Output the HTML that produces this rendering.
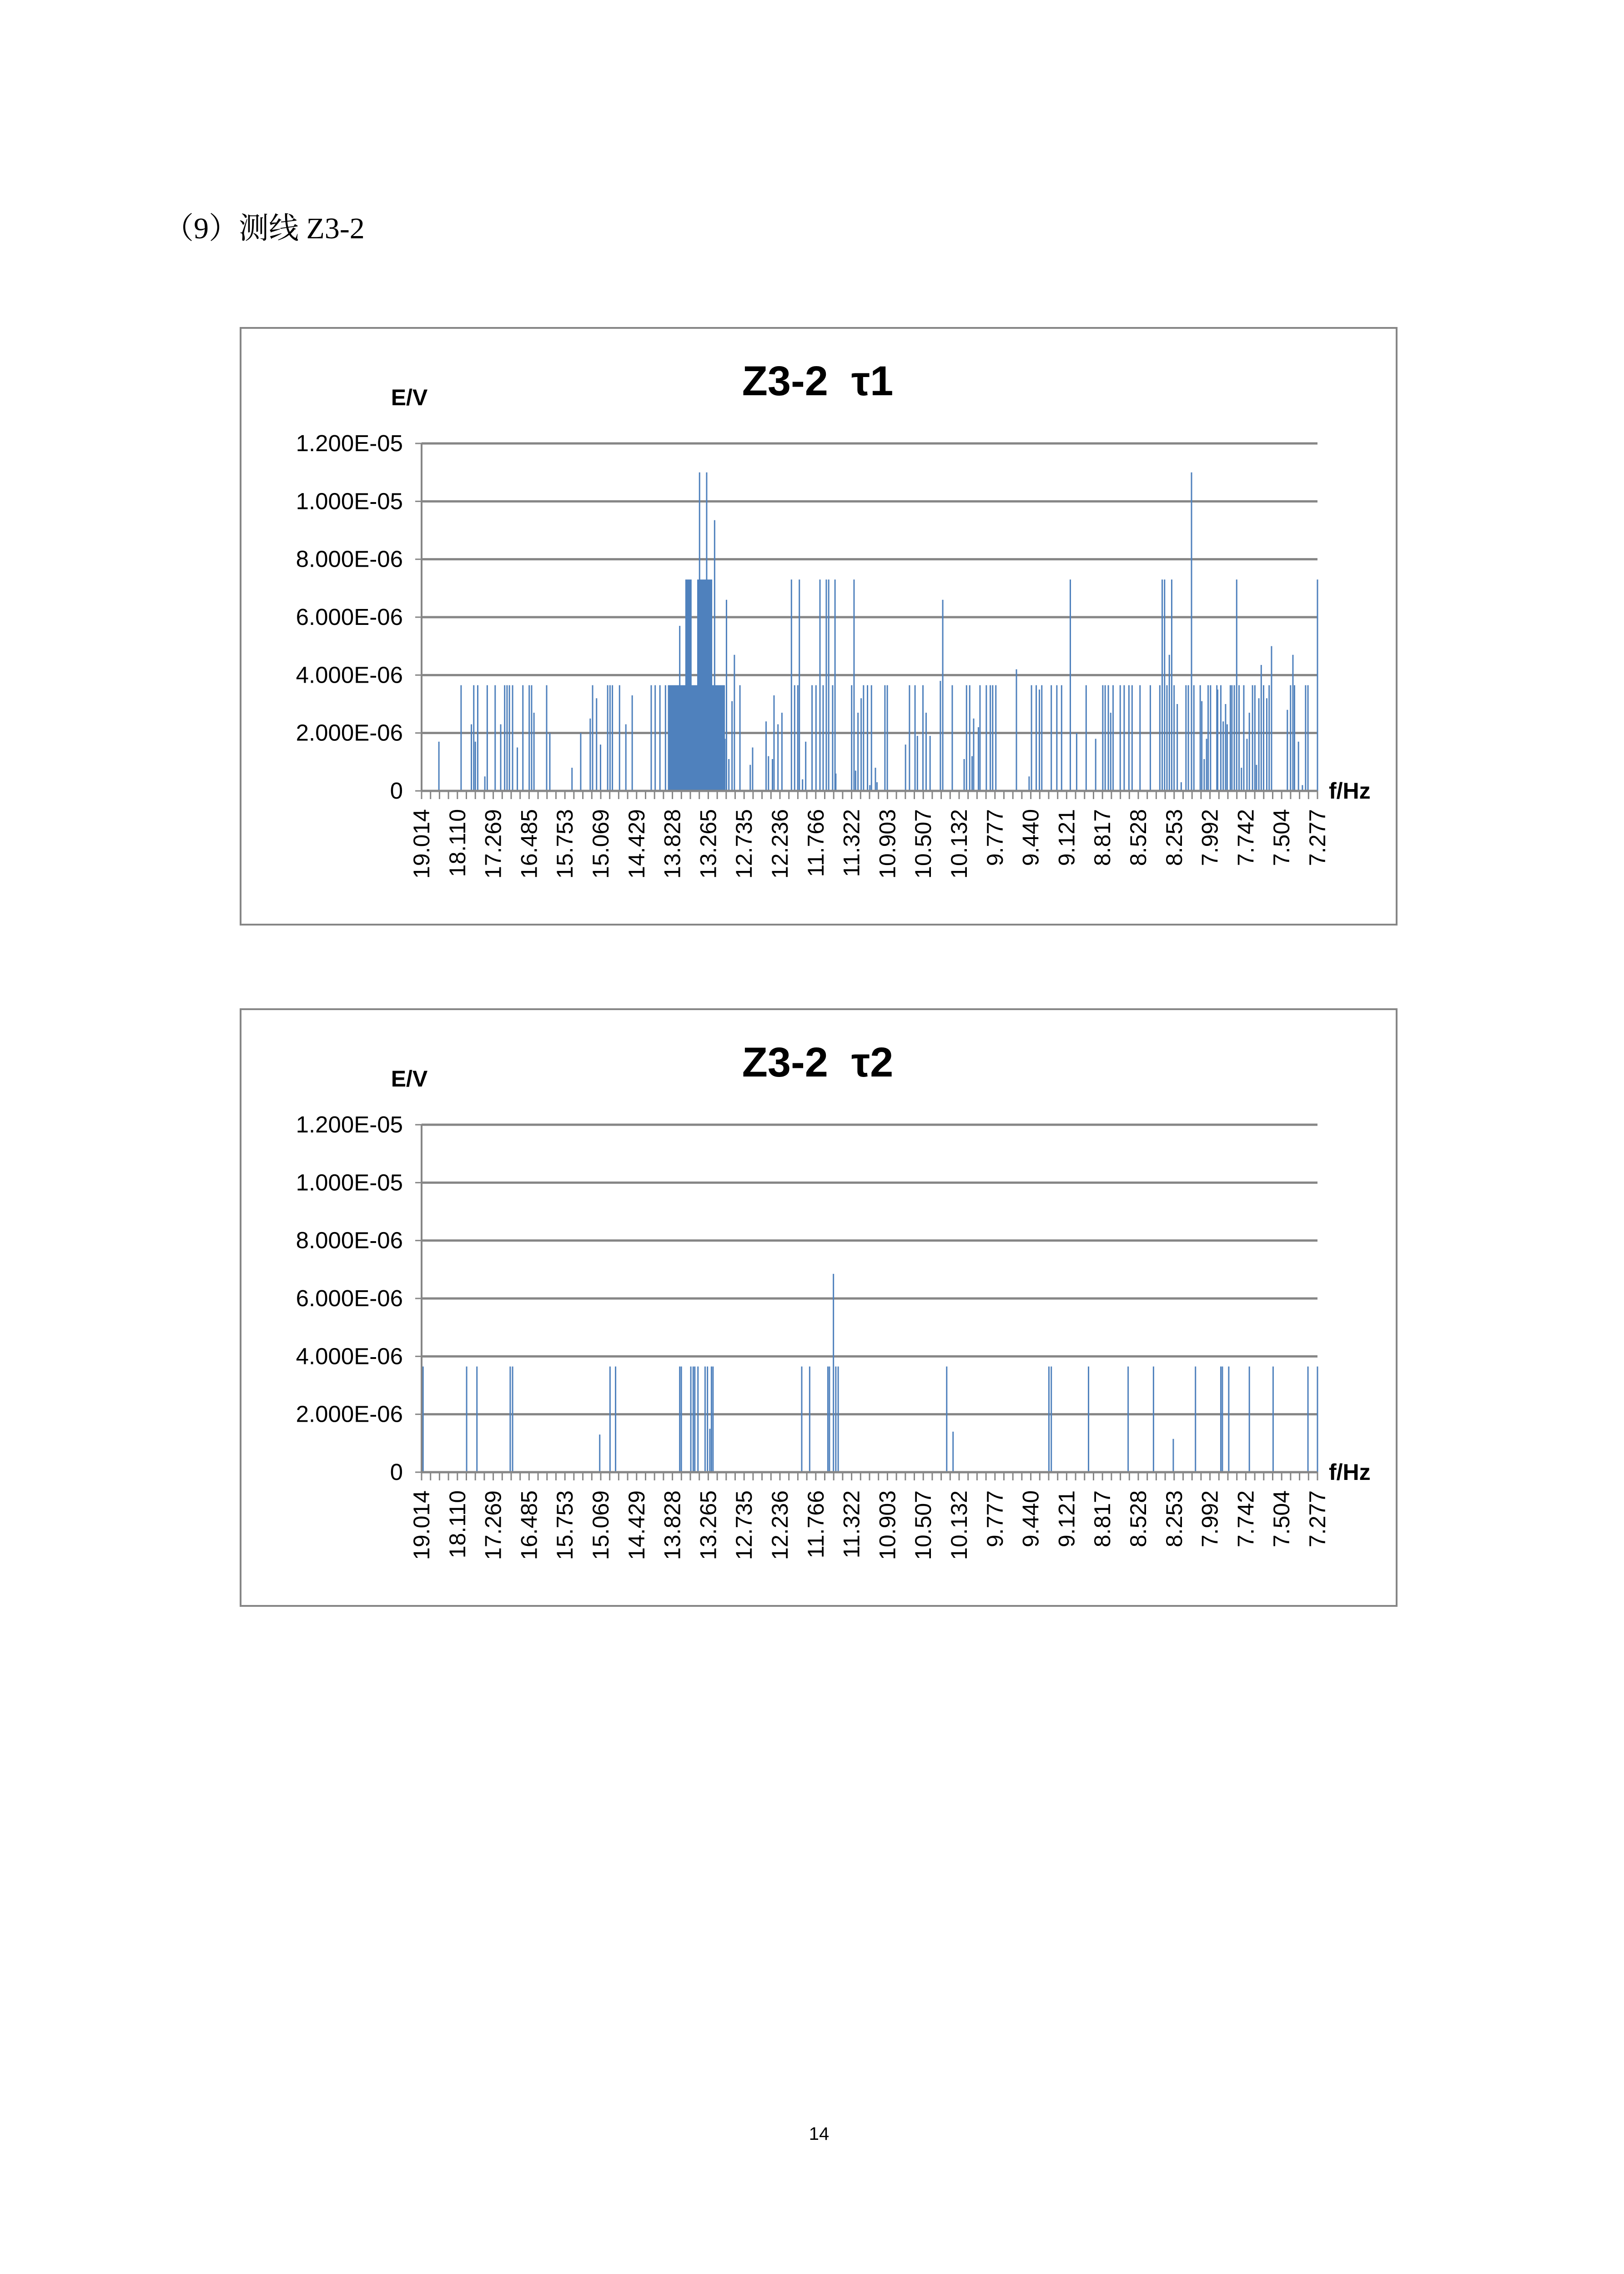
<!DOCTYPE html>
<html><head><meta charset="utf-8"><style>
html,body{margin:0;padding:0;background:#fff;width:3571px;height:5051px;overflow:hidden;}
body{position:relative;}
svg{position:absolute;left:0;top:0;display:block;}
</style></head><body>
<svg id="s" width="3571" height="5051" viewBox="0 0 3571 5051" xmlns="http://www.w3.org/2000/svg">
<text x="360" y="524" font-family="'Liberation Serif','Noto Serif CJK SC',serif" font-size="66" fill="#000">（9）测线 Z3-2</text>
<text x="1801" y="4705" font-family="'Liberation Sans',sans-serif" font-size="40" text-anchor="middle" fill="#000">14</text>
</svg>
<script>
var NS="http://www.w3.org/2000/svg",S=document.getElementById('s');
function el(t,a,txt){var e=document.createElementNS(NS,t);for(var k in a)e.setAttribute(k,a[k]);if(txt!==undefined)e.textContent=txt;S.appendChild(e);return e;}
var labels=["19.014","18.110","17.269","16.485","15.753","15.069","14.429","13.828","13.265","12.735","12.236","11.766","11.322","10.903","10.507","10.132","9.777","9.440","9.121","8.817","8.528","8.253","7.992","7.742","7.504","7.277"];
var ylab=["0","2.000E-06","4.000E-06","6.000E-06","8.000E-06","1.000E-05","1.200E-05"];
var d1=[[267,1.7],[295,3.65],[308,2.3],[311,3.65],[313,1.7],[316,3.65],[325,0.5],[328,3.65],[338,3.65],[345,2.3],[350,3.65],[353,3.65],[356,3.65],[360,3.65],[366,1.5],[373,3.65],[381,3.65],[384,3.65],[387,2.7],[403,3.65],[407,2.0],[435,0.8],[446,2.0],[458,2.5],[461,3.65],[466,3.2],[471,1.6],[480,3.65],[483,3.65],[486,3.65],[495,3.65],[503,2.3],[511,3.3],[535,3.65],[540,3.65],[546,3.65],[553,3.65],[557,2.4],[571,5.7],[596,11],[605,11],[615,9.35],[630,6.6],[628,1.8],[633,1.1],[637,3.1],[640,4.7],[647,3.65],[660,0.9],[663,1.5],[680,2.4],[683,1.2],[688,1.1],[690,3.3],[695,2.3],[700,2.7],[712,7.3],[716,3.65],[720,3.65],[722,7.3],[726,0.4],[730,1.7],[738,3.65],[743,3.65],[748,7.3],[752,3.65],[756,7.3],[759,7.3],[764,3.65],[767,7.3],[768,0.6],[788,3.65],[791,7.3],[793,0.7],[796,2.7],[800,3.2],[803,3.65],[808,3.65],[811,0.2],[813,3.65],[818,0.8],[820,0.3],[830,3.65],[833,3.65],[856,1.6],[861,3.65],[868,3.65],[871,1.9],[878,3.65],[882,2.7],[887,1.9],[900,3.8],[903,6.6],[915,3.65],[930,1.1],[933,3.65],[937,3.65],[940,1.2],[942,2.5],[948,2.2],[950,3.65],[958,3.65],[963,3.65],[966,3.65],[970,3.65],[996,4.2],[1012,0.5],[1015,3.65],[1021,3.65],[1025,3.5],[1028,3.65],[1040,3.65],[1047,3.65],[1053,3.65],[1064,7.3],[1072,2.0],[1084,3.65],[1096,1.8],[1105,3.65],[1108,3.65],[1112,3.65],[1115,2.7],[1118,3.65],[1127,3.65],[1132,3.65],[1138,3.65],[1142,3.65],[1152,3.65],[1165,3.65],[1177,3.65],[1180,7.3],[1183,7.3],[1186,3.65],[1189,4.7],[1192,7.3],[1195,3.65],[1199,3.0],[1204,0.3],[1210,3.65],[1213,3.65],[1217,11],[1220,3.65],[1228,3.65],[1230,3.1],[1233,1.1],[1236,1.8],[1238,3.65],[1241,3.65],[1249,3.65],[1250,3.5],[1254,3.65],[1257,2.4],[1260,3.0],[1262,2.3],[1266,3.65],[1268,3.65],[1271,3.65],[1274,7.3],[1277,3.65],[1280,0.8],[1283,3.65],[1287,1.8],[1290,2.7],[1294,3.65],[1297,3.65],[1299,0.9],[1302,3.2],[1305,4.35],[1308,3.65],[1312,3.2],[1315,3.65],[1318,5.0],[1338,2.8],[1342,3.65],[1345,4.7],[1347,3.65],[1352,1.7],[1357,0.2],[1361,3.65],[1364,3.65],[1376,7.3]];
var blocks1=[[556,628,3.65],[578,586,7.3],[593,612,7.3]];
var d2=[[246,3.65],[247,3.65],[302,3.65],[315,3.65],[357,3.65],[360,3.65],[470,1.3],[483,3.65],[490,3.65],[571,3.65],[573,3.65],[585,3.65],[588,3.65],[590,3.65],[594,3.65],[603,3.65],[606,3.65],[609,1.5],[611,3.65],[613,3.65],[725,3.65],[735,3.65],[758,3.65],[760,3.65],[765,6.85],[768,3.65],[771,3.65],[908,3.65],[916,1.4],[1037,3.65],[1040,3.65],[1087,3.65],[1137,3.65],[1169,3.65],[1194,1.15],[1222,3.65],[1254,3.65],[1256,3.65],[1264,3.65],[1290,3.65],[1320,3.65],[1364,3.65],[1376,3.65]];
function fx(o){return 500+o*1.742;}
function chart(top,title,data,blocks){
  var x0=927,x1=2897,y0=top+1018,yt=top+254,step=(y0-yt)/6,pu=step/2;
  el('rect',{x:529,y:top,width:2542,height:1312,fill:'#fff',stroke:'#868686','stroke-width':4});
  el('text',{x:1798,y:top+148,'text-anchor':'middle','font-family':"'Liberation Sans',sans-serif",'font-weight':'bold','font-size':92,fill:'#000'},title);
  el('text',{x:900,y:top+170,'text-anchor':'middle','font-family':"'Liberation Sans',sans-serif",'font-weight':'bold','font-size':50,fill:'#000'},'E/V');
  for(var i=0;i<=6;i++){var y=y0-i*step;
    if(i>0)el('line',{x1:x0,x2:x1,y1:y,y2:y,stroke:'#868686','stroke-width':5});
    el('line',{x1:x0-14,x2:x0,y1:y,y2:y,stroke:'#868686','stroke-width':3});
    el('text',{x:886,y:y+17,'text-anchor':'end','font-family':"'Liberation Sans',sans-serif",'font-size':51,fill:'#000'},ylab[i]);}
  (blocks||[]).forEach(function(b){var a=fx(b[0]),c=fx(b[1]);el('rect',{x:a,y:y0-b[2]*pu,width:c-a,height:b[2]*pu,fill:'#4f81bd'});});
  data.forEach(function(b){el('rect',{x:fx(b[0])-1.5,y:y0-b[1]*pu,width:3,height:b[1]*pu,fill:'#4f81bd'});});
  el('line',{x1:x0,x2:x0,y1:yt,y2:y0,stroke:'#868686','stroke-width':4});
  el('line',{x1:x0,x2:x1,y1:y0,y2:y0,stroke:'#868686','stroke-width':5});
  var sp=(x1-x0)/25;
  for(var j=0;j<=100;j++){var x=x0+j*sp/4;el('line',{x1:x,x2:x,y1:y0,y2:y0+18,stroke:'#868686','stroke-width':3});}
  for(var k=0;k<labels.length;k++){var x=x0+k*sp+17;
    el('text',{x:0,y:0,transform:'translate('+x+','+(y0+40)+') rotate(-90)','text-anchor':'end','font-family':"'Liberation Sans',sans-serif",'font-size':50,fill:'#000'},labels[k]);}
  el('text',{x:2922,y:y0+17,'font-family':"'Liberation Sans',sans-serif",'font-weight':'bold','font-size':50,fill:'#000'},'f/Hz');
}
chart(721,'Z3-2\u00a0\u00a0\u03c41',d1,blocks1);
chart(2219,'Z3-2\u00a0\u00a0\u03c42',d2,[]);
</script>
</body></html>
